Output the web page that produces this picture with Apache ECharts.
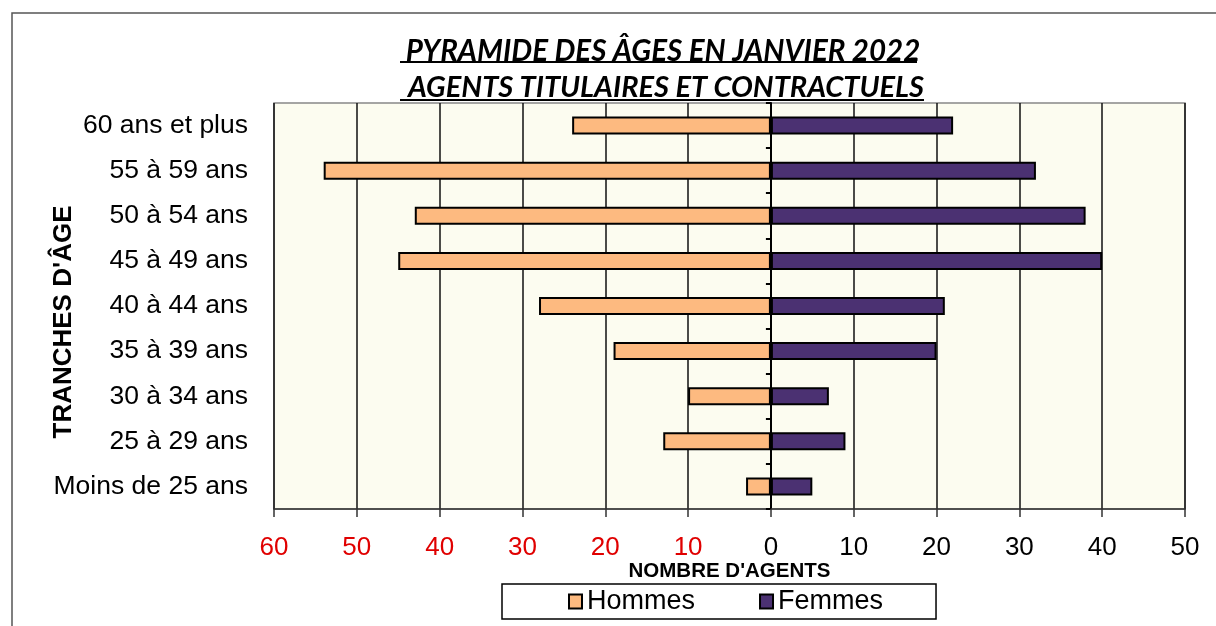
<!DOCTYPE html>
<html>
<head>
    <meta charset="utf-8">
    <title>Pyramide des âges</title>
    <script src="https://cdn.jsdelivr.net/npm/echarts@6/dist/echarts.min.js"></script>
    <style>
        html, body { margin: 0; padding: 0; background: #fff; }
        #chart1 { width: 1216px; height: 626px; }
    </style>
</head>
<body>
<div id="chart1"></div>
<script type="text/javascript">
// tranches d'âge, de haut en bas
var tranches = ['60 ans et plus', '55 à 59 ans', '50 à 54 ans', '45 à 49 ans', '40 à 44 ans',
    '35 à 39 ans', '30 à 34 ans', '25 à 29 ans', 'Moins de 25 ans'];
var hommes = [24, 54, 43, 45, 28, 19, 10, 13, 3];
var femmes = [22, 32, 38, 40, 21, 20, 7, 9, 5];
var xTicks = { min: -60, max: 50, interval: 10 };

var police = "'Liberation Sans', Arial, sans-serif";
var myChart1 = echarts.init(document.getElementById('chart1'));

myChart1.setOption({
    animation: false,
    backgroundColor: '#fff',
    title: [{
        text: 'PYRAMIDE DES ÂGES EN JANVIER 2022',
        left: 658, top: 31, textAlign: 'center',
        textStyle: { fontFamily: 'Lato', fontStyle: 'italic', fontWeight: 'bold', fontSize: 29.5, color: '#000' }
    }, {
        text: 'AGENTS TITULAIRES ET CONTRACTUELS',
        left: 661, top: 68, textAlign: 'center',
        textStyle: { fontFamily: 'Lato', fontStyle: 'italic', fontWeight: 'bold', fontSize: 29, color: '#000' }
    }],
    graphic: [
        { type: 'rect', shape: { x: 12, y: 13, width: 1300, height: 700 }, style: { fill: 'none', stroke: '#555', lineWidth: 1.5 }, z: -1 },
        { type: 'line', shape: { x1: 400, y1: 62, x2: 917, y2: 62 }, style: { stroke: '#000', lineWidth: 2 } },
        { type: 'line', shape: { x1: 400, y1: 100, x2: 924, y2: 100 }, style: { stroke: '#000', lineWidth: 2 } }
    ],
    legend: {
        data: ['Hommes', 'Femmes'],
        top: 584, left: 502,
        icon: 'rect', itemWidth: 13, itemHeight: 14, itemGap: 64,
        padding: [4, 53, 4, 66],
        borderColor: '#000', borderWidth: 1.5, backgroundColor: '#fff',
        textStyle: { fontFamily: police, fontSize: 27, color: '#000' }
    },
    grid: { left: 274, right: 31, top: 103, bottom: 117, show: true,
        backgroundColor: '#fcfcf0', borderColor: '#888', borderWidth: 1.5,
        containLabel: false, outerBoundsMode: 'none' },
    xAxis: {
        type: 'value', min: xTicks.min, max: xTicks.max, interval: xTicks.interval,
        name: "NOMBRE D'AGENTS", nameLocation: 'middle', nameGap: 52, nameMoveOverlap: false,
        nameTextStyle: { fontFamily: police, fontWeight: 'bold', fontSize: 20.5, color: '#000' },
        axisLine: { show: true, onZero: false, lineStyle: { color: '#333', width: 1.5 } },
        axisTick: { show: true, length: 8, lineStyle: { color: '#333', width: 1.5 } },
        axisLabel: {
            margin: 26, fontFamily: police, fontSize: 26,
            formatter: function (v) { return Math.abs(v); },
            color: function (v) { return v < 0 ? '#e00000' : '#000'; }
        },
        splitLine: { show: true, lineStyle: { color: '#111', width: 1.5 } }
    },
    yAxis: [{
        type: 'category', data: tranches, inverse: true, position: 'left',
        name: "TRANCHES D'ÂGE", nameLocation: 'middle', nameRotate: 90, nameGap: 197, nameMoveOverlap: false,
        nameTextStyle: { fontFamily: police, fontWeight: 'bold', fontSize: 26, color: '#000', padding: [0, 32, 0, 0] },
        axisLine: { show: false, onZero: false },
        axisTick: { show: false },
        axisLabel: { margin: 26, fontFamily: police, fontSize: 26.5, color: '#000' },
        splitLine: { show: false }
    }, {
        type: 'category', data: tranches, inverse: true, position: 'right',
        axisLine: { show: true, onZero: true, lineStyle: { color: '#000', width: 2 } },
        axisTick: { show: true, inside: true, length: 5, lineStyle: { color: '#000', width: 2 } },
        axisLabel: { show: false },
        splitLine: { show: false }
    }],
    series: [{
        name: 'Hommes', type: 'bar', stack: 'age', barWidth: 18,
        data: hommes.map(function (v) { return -v; }),
        itemStyle: { color: '#fdba80', borderColor: '#000', borderWidth: 2 }
    }, {
        name: 'Femmes', type: 'bar', stack: 'age', barWidth: 18,
        data: femmes,
        itemStyle: { color: '#4b3172', borderColor: '#000', borderWidth: 2 }
    }]
});
</script>
</body>
</html>
